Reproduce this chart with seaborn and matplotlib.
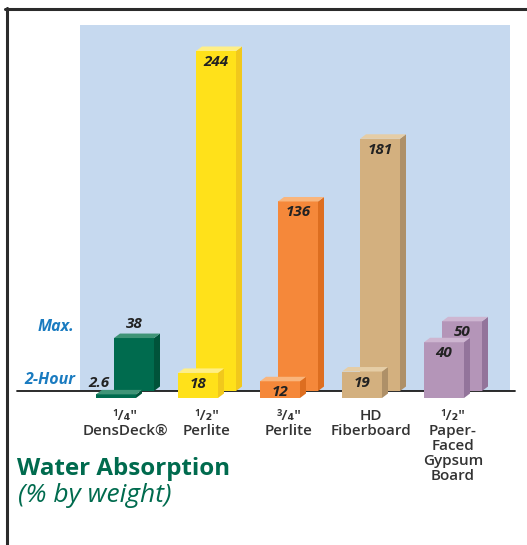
import numpy as np
import pandas as pd
import matplotlib
matplotlib.use('Agg')
import matplotlib.pyplot as plt
from matplotlib.patches import Polygon
from matplotlib.lines import Line2D
from matplotlib import transforms
import seaborn as sns

# --- data ---
categories = ['1/4 DensDeck', '1/2 Perlite', '3/4 Perlite', 'HD Fiberboard', '1/2 Gypsum']
tick_labels = ['¹/₄"\nDensDeck®', '¹/₂"\nPerlite', '³/₄"\nPerlite', 'HD\nFiberboard',
               '¹/₂"\nPaper-\nFaced\nGypsum\nBoard']
two_hour = [2.6, 18, 12, 19, 40]
max_abs = [38, 244, 136, 181, 50]
two_hour_text = ['2.6', '18', '12', '19', '40']
max_text = ['38', '244', '136', '181', '50']

front_colors = ['#006B4E', '#FFE11A', '#F5883A', '#D3B07F', '#B495B8']
side_colors = ['#00533A', '#F1C81C', '#DD6E20', '#AE9068', '#93749B']
top_colors = ['#3F9477', '#FFEF86', '#F9B57C', '#E5CDA6', '#CEB6D1']

GREEN = '#006B4E'
BLUE = '#1A7BC0'
BG = '#C6D9EF'

# --- layout (pixels of a 527x545 canvas) ---
W, H = 527, 545
px_unit = 340 / 244          # pixels per % point
group_px = 82                # spacing between groups
fy = lambda px: 1 - px / H

sns.set_theme(style='white')
plt.rcParams['font.family'] = ['Open Sans', 'DejaVu Sans']

fig = plt.figure(figsize=(W / 100, H / 100), dpi=100)
ax = fig.add_axes([80 / W, fy(391), 430 / W, 366 / H])
ax.set_facecolor(BG)

bw = 40 / group_px
off = 9 / group_px
dx = 6 / group_px
dy = 4.5 / px_unit
drop = 7 / px_unit

pal = dict(zip(categories, front_colors))
xs = np.arange(len(categories))

back = pd.DataFrame({'x': xs + off, 'v': max_abs, 'cat': categories})
front = pd.DataFrame({'x': xs - off, 'v': two_hour, 'cat': categories})

sns.barplot(data=back, x='x', y='v', hue='cat', palette=pal, native_scale=True,
            width=bw, saturation=1, dodge=False, legend=False, ax=ax,
            linewidth=0, zorder=2)
n_back = len(ax.patches)
sns.barplot(data=front, x='x', y='v', hue='cat', palette=pal, native_scale=True,
            width=bw, saturation=1, dodge=False, legend=False, ax=ax,
            linewidth=0, zorder=3)

# 3D faces
patches = list(ax.patches)
for k, p in enumerate(patches):
    is_front = k >= n_back
    if is_front:
        p.set_y(-drop)
    p.set_clip_on(False)
    z = 3 if is_front else 2
    p.set_zorder(z)
    x0, y0, w, h = p.get_x(), p.get_y(), p.get_width(), p.get_height()
    i = int(round(x0 + w / 2))
    side = Polygon([(x0 + w, y0), (x0 + w + dx, y0 + dy), (x0 + w + dx, y0 + h + dy), (x0 + w, y0 + h)],
                   closed=True, fc=side_colors[i], ec='none', zorder=z, clip_on=False)
    top = Polygon([(x0, y0 + h), (x0 + dx, y0 + h + dy), (x0 + w + dx, y0 + h + dy), (x0 + w, y0 + h)],
                  closed=True, fc=top_colors[i], ec='none', zorder=z, clip_on=False)
    ax.add_patch(side)
    ax.add_patch(top)

    label = two_hour_text[i] if is_front else max_text[i]
    cx, ty = x0 + w / 2, y0 + h
    if h * px_unit < 6:      # thin slab: label sits above, to the left
        offs = (-17, 11)
    elif h * px_unit < 60 and not is_front:
        offs = (0, 14)
    else:
        offs = (0, -11)
    ax.annotate(label, (cx, ty), xytext=(offs[0] * 0.72, offs[1] * 0.72),
                textcoords='offset points', ha='center', va='center',
                fontsize=11, fontweight='bold', fontstyle='italic',
                color='#222222', zorder=6, annotation_clip=False)

ax.set_xlim(-45 / group_px, 385 / group_px)
ax.set_ylim(0, 366 / px_unit)
ax.set_xticks([])
ax.set_yticks([])
ax.set_xlabel('')
ax.set_ylabel('')
for s in ax.spines.values():
    s.set_visible(False)

# baseline
ax.axhline(0, xmin=(17 - 80) / 430, xmax=(515 - 80) / 430, color='#1a1a1a',
           lw=1.3, clip_on=False, zorder=1.5)

# category labels
tr = transforms.blended_transform_factory(ax.transData, fig.transFigure)
for i, lab in enumerate(tick_labels):
    ax.text(i, fy(409), lab, transform=tr, ha='center', va='top', fontsize=11,
            fontweight='semibold', color='#333333', linespacing=1.1,
            multialignment='center')

# series markers on the left
fig.text(74 / W, fy(327), 'Max.', ha='right', va='center', fontsize=11.5,
         fontweight='bold', fontstyle='italic', color=BLUE)
fig.text(75 / W, fy(380), '2-Hour', ha='right', va='center', fontsize=11.5,
         fontweight='bold', fontstyle='italic', color=BLUE)

# title
fig.text(17 / W, fy(469), 'Water Absorption', ha='left', va='center',
         fontsize=17.4, fontweight='bold', color=GREEN)
fig.text(18 / W, fy(496), '(% by weight)', ha='left', va='center',
         fontsize=19, fontstyle='italic', color=GREEN)

# frame lines
fig.add_artist(Line2D([5 / W, 1], [fy(8.5), fy(8.5)], color='#2b2b2b', lw=2.2))
fig.add_artist(Line2D([6.5 / W, 6.5 / W], [fy(7.5), 0], color='#2b2b2b', lw=2.2))

fig.savefig('out.png', dpi=100)
